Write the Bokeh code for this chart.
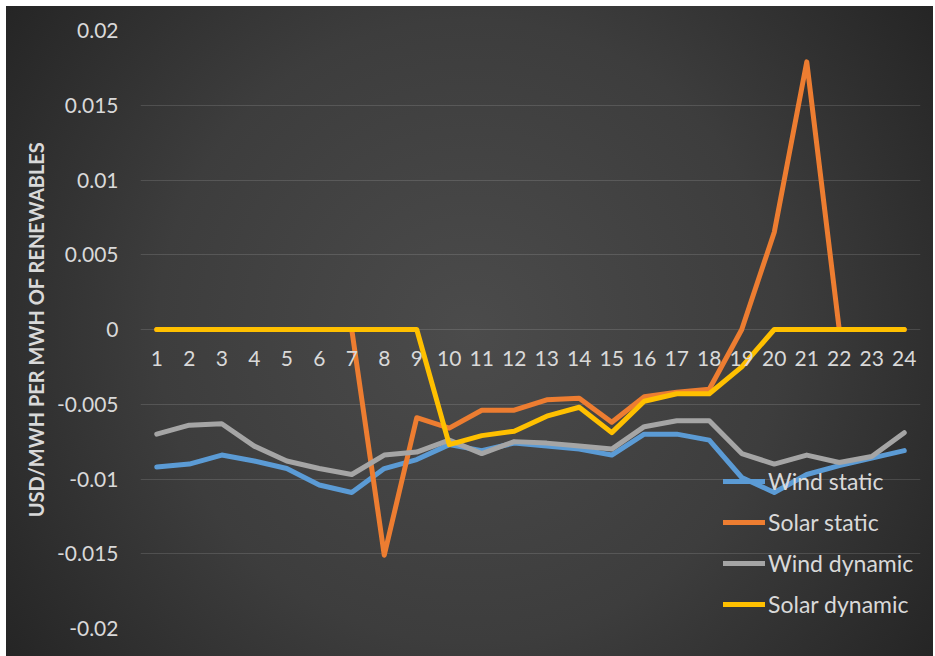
from bokeh.plotting import figure
from bokeh.models import Legend, LegendItem, FixedTicker, ColumnDataSource, Range1d
from bokeh.core.properties import value
from bokeh.embed import file_html
from bokeh.resources import INLINE

hours = list(range(1, 25))
hour_labels = [str(h) for h in hours]

wind_static = [-0.0092, -0.0090, -0.0084, -0.0088, -0.0093, -0.0104, -0.0109, -0.0093,
               -0.0087, -0.0077, -0.0081, -0.0076, -0.0078, -0.0080, -0.0084, -0.0070,
               -0.0070, -0.0074, -0.0099, -0.0109, -0.0097, -0.0091, -0.0086, -0.0081]
solar_static = [0.0, 0.0, 0.0, 0.0, 0.0, 0.0, 0.0, -0.0151,
                -0.0059, -0.0066, -0.0054, -0.0054, -0.0047, -0.0046, -0.0062, -0.0045,
                -0.0042, -0.0040, 0.0000, 0.0065, 0.0179, 0.0, 0.0, 0.0]
wind_dynamic = [-0.0070, -0.0064, -0.0063, -0.0078, -0.0088, -0.0093, -0.0097, -0.0084,
                -0.0082, -0.0074, -0.0083, -0.0075, -0.0076, -0.0078, -0.0080, -0.0065,
                -0.0061, -0.0061, -0.0083, -0.0090, -0.0084, -0.0089, -0.0085, -0.0069]
solar_dynamic = [0.0, 0.0, 0.0, 0.0, 0.0, 0.0, 0.0, 0.0,
                 0.0, -0.0077, -0.0071, -0.0068, -0.0058, -0.0052, -0.0069, -0.0048,
                 -0.0043, -0.0043, -0.0025, 0.0, 0.0, 0.0, 0.0, 0.0]

series_names = ["Wind static", "Solar static", "Wind dynamic", "Solar dynamic"]
series_colors = ["#5B9BD5", "#ED7D31", "#A5A5A5", "#FFC000"]
series_values = [wind_static, solar_static, wind_dynamic, solar_dynamic]

y_ticks = [-0.02, -0.015, -0.01, -0.005, 0.0, 0.005, 0.01, 0.015, 0.02]
y_tick_labels = ["-0.02", "-0.015", "-0.01", "-0.005", "0", "0.005", "0.01", "0.015", "0.02"]
y_title = "USD/MWH PER MWH OF RENEWABLES"

TEXT = "#D9D9D9"
FONT = "Lato"

p = figure(width=927, height=650, output_backend="svg", toolbar_location=None,
           x_range=Range1d(0.5, 24.5), y_range=Range1d(-0.02, 0.02),
           min_border_left=134, min_border_right=13, min_border_top=24, min_border_bottom=28)
p.margin = (6, 0, 0, 6)

p.styles = {"background-image": "radial-gradient(circle farthest-corner at 50% 50%, #4b4b4b 0%, #3d3d3d 55%, #252525 100%)"}
p.border_fill_color = None
p.background_fill_color = None
p.outline_line_color = None

p.xaxis.visible = False
p.xgrid.visible = False

ya = p.yaxis[0]
ya.ticker = FixedTicker(ticks=y_ticks)
ya.major_label_overrides = {t: l for t, l in zip(y_ticks, y_tick_labels)}
ya.axis_line_color = None
ya.major_tick_line_color = None
ya.minor_tick_line_color = None
ya.major_tick_out = 0
ya.major_tick_in = 0
ya.major_label_standoff = 22
ya.major_label_text_font = FONT
ya.major_label_text_font_size = "21px"
ya.major_label_text_color = TEXT
ya.axis_label = y_title
ya.axis_label_text_font = FONT
ya.axis_label_text_font_style = "bold"
ya.axis_label_text_font_size = "20px"
ya.axis_label_text_color = TEXT
ya.axis_label_standoff = 6

p.ygrid.ticker = FixedTicker(ticks=y_ticks)
p.ygrid.grid_line_color = "white"
p.ygrid.grid_line_alpha = 0.13
p.ygrid.grid_line_width = 1

items = []
for name, color, vals in zip(series_names, series_colors, series_values):
    src = ColumnDataSource(dict(x=hours, y=vals))
    r = p.line("x", "y", source=src, line_color=color, line_width=5, line_join="round", line_cap="round")
    items.append(LegendItem(label=name, renderers=[r]))

lab_src = ColumnDataSource(dict(x=hours, y=[0.0] * len(hours), t=hour_labels))
p.text("x", "y", text="t", source=lab_src, y_offset=29, text_align="center", text_baseline="middle",
       text_font=value(FONT), text_font_size="21px", text_color=TEXT)

legend = Legend(items=items, location=(583, 10), orientation="vertical")
legend.background_fill_alpha = 0
legend.border_line_color = None
legend.padding = 0
legend.margin = 0
legend.spacing = 13
legend.glyph_width = 42
legend.glyph_height = 28
legend.label_height = 28
legend.label_standoff = 3
legend.label_text_font = FONT
legend.label_text_font_size = "23px"
legend.label_text_color = TEXT
p.add_layout(legend, "center")

open("out.html", "w").write(file_html(p, INLINE))
